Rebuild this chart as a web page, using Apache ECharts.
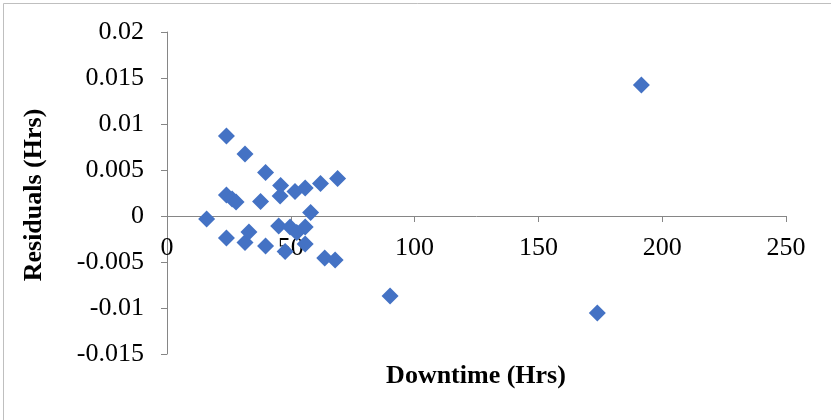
<!DOCTYPE html>
<html>
<head>
<meta charset="utf-8">
<script src="https://cdn.jsdelivr.net/npm/echarts@6/dist/echarts.min.js"></script>
<style>html,body{margin:0;padding:0;background:#fff}#c{width:831px;height:420px}</style>
</head>
<body>
<div id="c"></div>
<script>
// Downtime (Hrs)
var downtime = [191.6, 173.8, 90.1, 24.0, 31.5, 39.8, 68.9, 62.0, 55.8, 51.7, 45.9, 45.7, 37.8, 24.0, 26.3, 27.9, 16.0, 58.0, 24.0, 31.5, 33.1, 39.8, 45.1, 49.7, 55.8, 47.7, 55.8, 63.7, 67.9, 52.4];
// Residuals (Hrs)
var residuals = [0.01424, -0.01054, -0.0087, 0.0087, 0.00674, 0.00473, 0.00408, 0.00353, 0.00304, 0.00266, 0.00332, 0.00217, 0.00158, 0.00228, 0.00185, 0.00152, -0.00033, 0.00038, -0.00239, -0.00288, -0.00174, -0.00326, -0.00109, -0.0012, -0.0012, -0.00386, -0.00304, -0.00457, -0.00478, -0.0018];
var xTicks = [0, 50, 100, 150, 200, 250];
var yTicks = [-0.015, -0.01, -0.005, 0, 0.005, 0.01, 0.015, 0.02];
var xTitle = 'Downtime (Hrs)';
var yTitle = 'Residuals (Hrs)';

var points = downtime.map(function (x, i) { return [x, residuals[i]]; });
var font = '"Liberation Serif", "Times New Roman", serif';
var chart = echarts.init(document.getElementById('c'), null, {renderer: 'canvas'});
chart.setOption({
  animation: false,
  grid: {left: 167, right: 45, top: 32, bottom: 66},
  xAxis: {
    type: 'value', min: xTicks[0], max: xTicks[xTicks.length - 1], interval: 50,
    offset: -138,
    axisLine: {onZero: false, lineStyle: {color: '#868686', width: 1}},
    axisTick: {show: true, length: 6, lineStyle: {color: '#868686'}},
    axisLabel: {color: '#000', fontFamily: font, fontSize: 26, margin: 19},
    splitLine: {show: false}
  },
  yAxis: {
    type: 'value', min: yTicks[0], max: yTicks[yTicks.length - 1], interval: 0.005,
    axisLine: {show: true, lineStyle: {color: '#868686', width: 1}},
    axisTick: {show: true, length: 6, lineStyle: {color: '#868686'}},
    axisLabel: {color: '#000', fontFamily: font, fontSize: 26, margin: 23,
      formatter: function (v) { return String(parseFloat(v.toFixed(3))); }},
    splitLine: {show: false}
  },
  graphic: [
    {type: 'rect', shape: {x: 3.5, y: 3.5, width: 900, height: 500}, style: {fill: null, stroke: '#bfbfbf', lineWidth: 1}, silent: true},
    {type: 'text', x: 476, y: 376, style: {text: xTitle, font: 'bold 26px ' + font, fill: '#000', align: 'center', verticalAlign: 'middle'}},
    {type: 'text', x: 34, y: 195, rotation: Math.PI / 2, style: {text: yTitle, font: 'bold 26px ' + font, fill: '#000', align: 'center', verticalAlign: 'middle'}}
  ],
  series: [{
    type: 'scatter', data: points, symbol: 'diamond', symbolSize: 17,
    itemStyle: {color: '#4472C4', opacity: 1}
  }]
});
</script>
</body>
</html>
